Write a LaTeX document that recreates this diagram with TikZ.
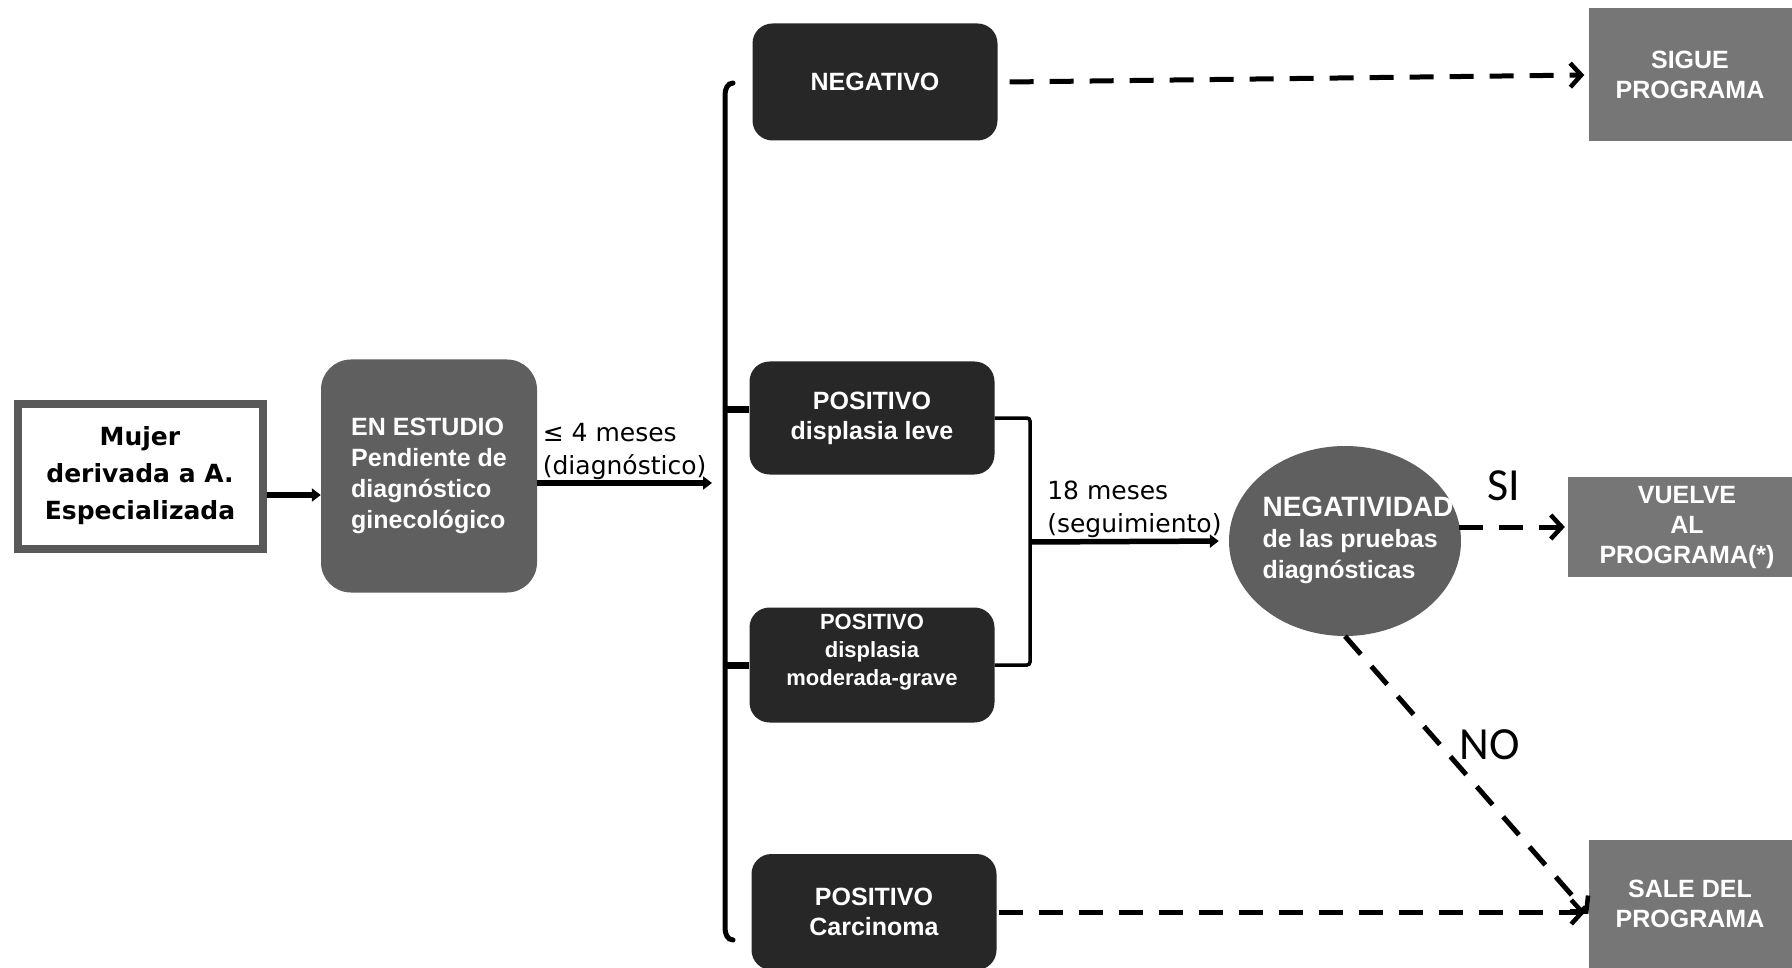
\documentclass[tikz,border=0pt]{standalone}
\usepackage{fontspec}
\setmainfont{Liberation Sans}
\newfontfamily\dejavu{DejaVu Sans}
\newfontfamily\carlito{Carlito}
\usepackage{tikz}
\usetikzlibrary{shapes.geometric, arrows.meta, positioning}
\definecolor{boxdark}{HTML}{272727}
\definecolor{boxmid}{HTML}{5F5F5F}
\definecolor{boxlight}{HTML}{767676}
\definecolor{framegray}{HTML}{595959}

\begin{document}
\begin{tikzpicture}[
x=1pt, y=-1pt,
every node/.style={align=center, text=white, font=\fontsize{25}{30}\selectfont\bfseries},
arrow/.style={-{Triangle[length=9pt,width=13pt]}, line width=5.5pt},
dasharrow/.style={-{Straight Barb[length=11pt,width=24pt,line width=4.5pt]}, line width=5pt, dash pattern=on 24pt off 16pt}
]

% Define styles
\tikzstyle{origin} = [rectangle, fill=white, draw=framegray, line width=8pt, minimum width=245pt, minimum height=145pt, text=black, font=\dejavu\bfseries\fontsize{25}{37}\selectfont]
\tikzstyle{study} = [rectangle, rounded corners=30pt, fill=boxmid, minimum width=216pt, minimum height=233pt, align=left, font=\fontsize{25}{31}\selectfont\bfseries]
\tikzstyle{result} = [rectangle, rounded corners=20pt, fill=boxdark, minimum width=245pt, minimum height=115pt]
\tikzstyle{check} = [ellipse, fill=boxmid, minimum width=232pt, minimum height=190pt, inner sep=0pt, font=\fontsize{25}{31}\selectfont\bfseries]
\tikzstyle{exit} = [rectangle, fill=boxlight, minimum width=203pt, minimum height=130pt]
\tikzstyle{tag} = [text=black, inner sep=1pt, align=left, font=\dejavu\fontsize{25}{33}\selectfont]
\tikzstyle{answer} = [text=black, inner sep=2pt, font=\carlito\fontsize{46}{46}\selectfont]
\tikzstyle{brace} = [line width=5pt, line cap=round]
\tikzstyle{bracket} = [line width=3.5pt, rounded corners=3pt]

\useasboundingbox[fill=white] (0,0) rectangle (1792,968);

% Nodes
\node (mujer) [origin] at (140,476) {Mujer\\derivada a A.\\Especializada};

\node (estudio) [study] at (429,476) {EN ESTUDIO\\Pendiente de\\diagnóstico\\ginecológico};

\node (neg) [result, minimum height=117pt] at (875,82) {NEGATIVO};

\node (leve) [result, minimum height=113pt] at (872,418) {POSITIVO\\displasia leve};

\node (grave) [result, inner ysep=0pt, font=\fontsize{22}{28}\selectfont\bfseries] at (872,665) {POSITIVO\\displasia\\moderada-grave\\[2pt]};

\node (carc) [result, minimum height=116pt] at (874,912) {POSITIVO\\Carcinoma};

\node (negat) [check] at (1345,541) {\makebox[0pt]{\hspace*{26pt}\raisebox{9pt}{\begin{tabular}{@{}l@{}}{\fontsize{28}{34}\selectfont NEGATIVIDAD}\\de las pruebas\\diagnósticas\end{tabular}}}};

\node (sigue) [exit, minimum height=133pt] at (1690,75) {SIGUE\\PROGRAMA};

\node (vuelve) [exit, minimum width=238pt, minimum height=100pt] at (1687,527) {VUELVE\\AL\\PROGRAMA(*)};

\node (sale) [exit, minimum height=128pt] at (1690,904) {SALE DEL\\PROGRAMA};

% Bracket
\coordinate (btop) at (725,95);
\coordinate (bbot) at (725,928);
\coordinate (lin) at (712,483);
\coordinate (rb) at (1030,542);
\draw[brace] (733,83) to[out=180,in=90] (btop) -- (bbot) to[out=-90,in=180] (733,940);
\draw[brace, line width=7pt, line cap=butt] (btop |- 0,409) -- (leve.west |- 0,409);
\draw[brace, line width=7pt, line cap=butt] (btop |- grave.west) -- (grave.west);
\draw[bracket] (leve.east) -| (rb) |- (grave.east);

% Arrows
\draw [arrow] ([yshift=-19pt]mujer.east) -- ([yshift=-19pt]estudio.west);
\draw [arrow] (estudio.east |- lin) -- node[above, tag] {≤ 4 meses\\(diagnóstico)} (lin);
\draw [arrow, shorten >=10pt] (rb) -- node[above, tag, xshift=5pt] {18 meses\\(seguimiento)} (negat.west);

\draw [dasharrow] ([xshift=12pt]neg.east) -- ([xshift=-4pt]sigue.west);
\draw [dasharrow] ([xshift=-2pt]negat.east |- vuelve.west) -- node[pos=0.42, above=22pt, answer] {SI} ([xshift=-3pt]vuelve.west);
\draw [dasharrow] (negat.south) -- node[pos=0.39, right=15pt, answer] {NO} ([yshift=-10pt]sale.west);
\draw [dasharrow] ([xshift=2pt]carc.east) -- ([xshift=-3pt]sale.west |- carc.east);

\end{tikzpicture}
\end{document}
